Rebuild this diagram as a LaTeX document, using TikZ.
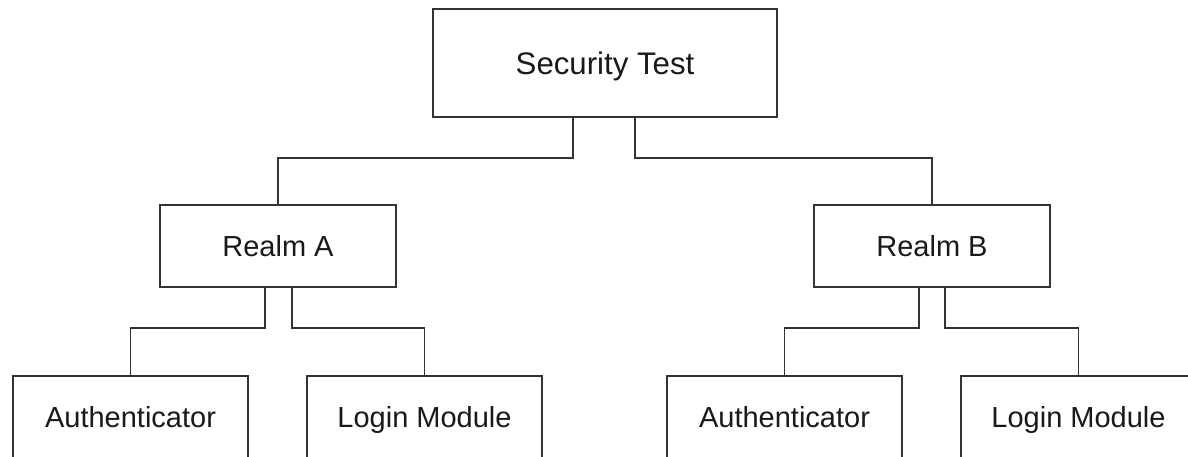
\documentclass[tikz,border=0pt]{standalone}
\usepackage{fontspec}
\setmainfont{Liberation Sans}
\begin{document}
\begin{tikzpicture}[x=1pt,y=-1pt,
  box/.style={draw=black!80, line width=1.8pt, fill=white, inner sep=0pt,
    minimum width=235pt, minimum height=82pt, text=black!90,
    text height=21pt, text depth=0pt,
    font=\fontsize{29}{34}\selectfont},
  link/.style={draw=black!80, line width=1.8pt}]
\useasboundingbox (0,0) rectangle (1188,456);
\clip (0,0) rectangle (1188,456);
\node[box, minimum width=344pt, minimum height=108pt, text height=22pt,
  font=\fontsize{31.2}{37}\selectfont] (top) at (605,63) {Security Test};
\node[box, minimum width=236pt] (ra) at (278,246) {Realm A};
\node[box, minimum width=236pt] (rb) at (932,246) {Realm B};
\node[box] (a1) at (130.5,417) {Authenticator};
\node[box] (l1) at (424.5,417) {Login Module};
\node[box] (a2) at (784.5,417) {Authenticator};
\node[box] (l2) at (1078.5,417) {Login Module};
\draw[link] ([xshift=-32pt]top.south) -- ++(0,40) -| (ra.north);
\draw[link] ([xshift=30pt]top.south) -- ++(0,40) -| (rb.north);
\draw[link] ([xshift=-13pt]ra.south) -- ++(0,40) -| (a1.north);
\draw[link] ([xshift=14pt]ra.south) -- ++(0,40) -| (l1.north);
\draw[link] ([xshift=-13pt]rb.south) -- ++(0,40) -| (a2.north);
\draw[link] ([xshift=13pt]rb.south) -- ++(0,40) -| (l2.north);
\end{tikzpicture}
\end{document}
